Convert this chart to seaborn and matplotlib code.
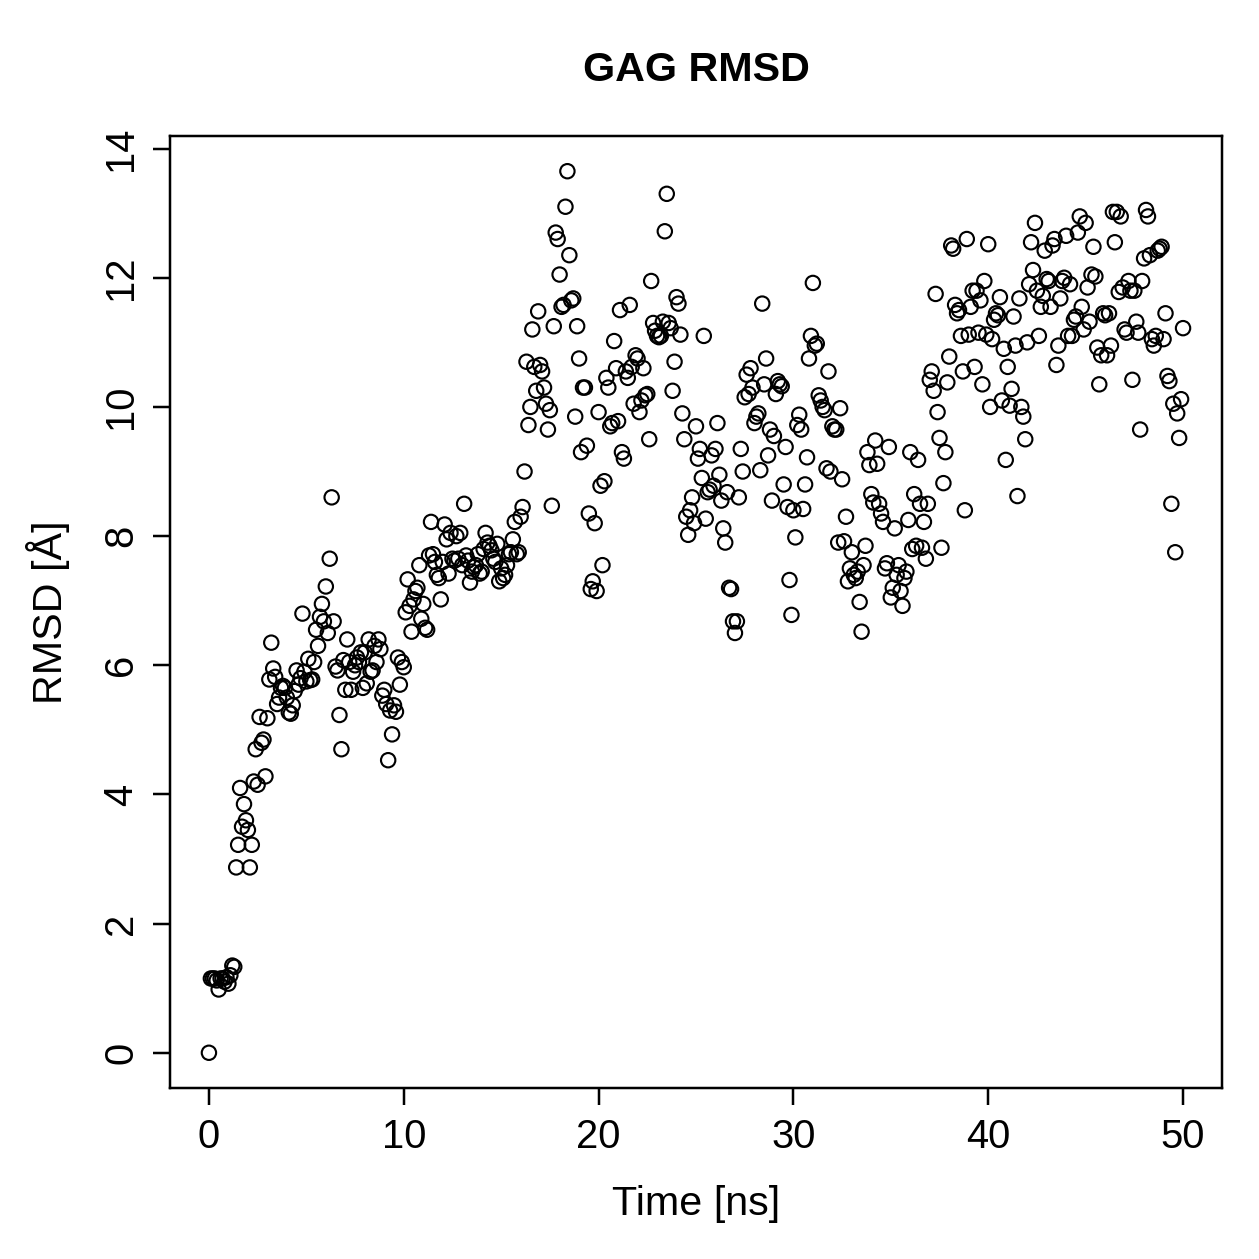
import seaborn as sns
import matplotlib.pyplot as plt
import pandas as pd

# ---------------------------------------
# Data: RMSD of GAG over the trajectory
# ---------------------------------------
time_ns = [
    0.0, 0.1, 0.2, 0.3, 0.4, 0.5, 0.6, 0.7, 0.8, 0.9,
    1.0, 1.1, 1.2, 1.3, 1.4, 1.5, 1.6, 1.7, 1.8, 1.9,
    2.0, 2.1, 2.2, 2.3, 2.4, 2.5, 2.6, 2.7, 2.8, 2.9,
    3.0, 3.1, 3.2, 3.3, 3.4, 3.5, 3.6, 3.7, 3.8, 3.9,
    4.0, 4.1, 4.2, 4.3, 4.4, 4.5, 4.6, 4.7, 4.8, 4.9,
    5.0, 5.1, 5.2, 5.3, 5.4, 5.5, 5.6, 5.7, 5.8, 5.9,
    6.0, 6.1, 6.2, 6.3, 6.4, 6.5, 6.6, 6.7, 6.8, 6.9,
    7.0, 7.1, 7.2, 7.3, 7.4, 7.5, 7.6, 7.7, 7.8, 7.9,
    8.0, 8.1, 8.2, 8.3, 8.4, 8.5, 8.6, 8.7, 8.8, 8.9,
    9.0, 9.1, 9.2, 9.3, 9.4, 9.5, 9.6, 9.7, 9.8, 9.9,
    10.0, 10.1, 10.2, 10.3, 10.4, 10.5, 10.6, 10.7, 10.8, 10.9,
    11.0, 11.1, 11.2, 11.3, 11.4, 11.5, 11.6, 11.7, 11.8, 11.9,
    12.0, 12.1, 12.2, 12.3, 12.4, 12.5, 12.6, 12.7, 12.8, 12.9,
    13.0, 13.1, 13.2, 13.3, 13.4, 13.5, 13.6, 13.7, 13.8, 13.9,
    14.0, 14.1, 14.2, 14.3, 14.4, 14.5, 14.6, 14.7, 14.8, 14.9,
    15.0, 15.1, 15.2, 15.3, 15.4, 15.5, 15.6, 15.7, 15.8, 15.9,
    16.0, 16.1, 16.2, 16.3, 16.4, 16.5, 16.6, 16.7, 16.8, 16.9,
    17.0, 17.1, 17.2, 17.3, 17.4, 17.5, 17.6, 17.7, 17.8, 17.9,
    18.0, 18.1, 18.2, 18.3, 18.4, 18.5, 18.6, 18.7, 18.8, 18.9,
    19.0, 19.1, 19.2, 19.3, 19.4, 19.5, 19.6, 19.7, 19.8, 19.9,
    20.0, 20.1, 20.2, 20.3, 20.4, 20.5, 20.6, 20.7, 20.8, 20.9,
    21.0, 21.1, 21.2, 21.3, 21.4, 21.5, 21.6, 21.7, 21.8, 21.9,
    22.0, 22.1, 22.2, 22.3, 22.4, 22.5, 22.6, 22.7, 22.8, 22.9,
    23.0, 23.1, 23.2, 23.3, 23.4, 23.5, 23.6, 23.7, 23.8, 23.9,
    24.0, 24.1, 24.2, 24.3, 24.4, 24.5, 24.6, 24.7, 24.8, 24.9,
    25.0, 25.1, 25.2, 25.3, 25.4, 25.5, 25.6, 25.7, 25.8, 25.9,
    26.0, 26.1, 26.2, 26.3, 26.4, 26.5, 26.6, 26.7, 26.8, 26.9,
    27.0, 27.1, 27.2, 27.3, 27.4, 27.5, 27.6, 27.7, 27.8, 27.9,
    28.0, 28.1, 28.2, 28.3, 28.4, 28.5, 28.6, 28.7, 28.8, 28.9,
    29.0, 29.1, 29.2, 29.3, 29.4, 29.5, 29.6, 29.7, 29.8, 29.9,
    30.0, 30.1, 30.2, 30.3, 30.4, 30.5, 30.6, 30.7, 30.8, 30.9,
    31.0, 31.1, 31.2, 31.3, 31.4, 31.5, 31.6, 31.7, 31.8, 31.9,
    32.0, 32.1, 32.2, 32.3, 32.4, 32.5, 32.6, 32.7, 32.8, 32.9,
    33.0, 33.1, 33.2, 33.3, 33.4, 33.5, 33.6, 33.7, 33.8, 33.9,
    34.0, 34.1, 34.2, 34.3, 34.4, 34.5, 34.6, 34.7, 34.8, 34.9,
    35.0, 35.1, 35.2, 35.3, 35.4, 35.5, 35.6, 35.7, 35.8, 35.9,
    36.0, 36.1, 36.2, 36.3, 36.4, 36.5, 36.6, 36.7, 36.8, 36.9,
    37.0, 37.1, 37.2, 37.3, 37.4, 37.5, 37.6, 37.7, 37.8, 37.9,
    38.0, 38.1, 38.2, 38.3, 38.4, 38.5, 38.6, 38.7, 38.8, 38.9,
    39.0, 39.1, 39.2, 39.3, 39.4, 39.5, 39.6, 39.7, 39.8, 39.9,
    40.0, 40.1, 40.2, 40.3, 40.4, 40.5, 40.6, 40.7, 40.8, 40.9,
    41.0, 41.1, 41.2, 41.3, 41.4, 41.5, 41.6, 41.7, 41.8, 41.9,
    42.0, 42.1, 42.2, 42.3, 42.4, 42.5, 42.6, 42.7, 42.8, 42.9,
    43.0, 43.1, 43.2, 43.3, 43.4, 43.5, 43.6, 43.7, 43.8, 43.9,
    44.0, 44.1, 44.2, 44.3, 44.4, 44.5, 44.6, 44.7, 44.8, 44.9,
    45.0, 45.1, 45.2, 45.3, 45.4, 45.5, 45.6, 45.7, 45.8, 45.9,
    46.0, 46.1, 46.2, 46.3, 46.4, 46.5, 46.6, 46.7, 46.8, 46.9,
    47.0, 47.1, 47.2, 47.3, 47.4, 47.5, 47.6, 47.7, 47.8, 47.9,
    48.0, 48.1, 48.2, 48.3, 48.4, 48.5, 48.6, 48.7, 48.8, 48.9,
    49.0, 49.1, 49.2, 49.3, 49.4, 49.5, 49.6, 49.7, 49.8, 49.9,
    50.0,
]

rmsd = [
    0.0, 1.15, 1.15, 1.15, 1.12, 0.98, 1.15, 1.15, 1.1, 1.17,
    1.07, 1.2, 1.35, 1.33, 2.87, 3.22, 4.1, 3.5, 3.85, 3.6,
    3.45, 2.87, 3.22, 4.2, 4.7, 4.15, 5.2, 4.8, 4.85, 4.28,
    5.18, 5.78, 6.35, 5.95, 5.82, 5.4, 5.5, 5.65, 5.68, 5.65,
    5.5, 5.27, 5.25, 5.38, 5.6, 5.92, 5.7, 5.8, 6.8, 5.9,
    5.75, 6.1, 5.77, 5.78, 6.05, 6.55, 6.3, 6.75, 6.95, 6.68,
    7.22, 6.5, 7.65, 8.6, 6.68, 5.98, 5.92, 5.23, 4.7, 6.08,
    5.62, 6.4, 6.05, 5.62, 5.9, 6.0, 6.12, 6.05, 6.2, 5.65,
    6.2, 5.72, 6.4, 5.9, 5.92, 6.3, 6.05, 6.4, 6.25, 5.53,
    5.62, 5.4, 4.53, 5.3, 4.93, 5.38, 5.28, 6.12, 5.7, 6.05,
    5.97, 6.82, 7.33, 6.92, 6.52, 7.02, 7.15, 7.2, 7.55, 6.72,
    6.95, 6.58, 6.55, 7.7, 8.22, 7.72, 7.6, 7.4, 7.35, 7.02,
    7.6, 8.18, 7.95, 7.42, 8.05, 7.65, 7.62, 8.0, 7.65, 8.05,
    7.55, 8.5, 7.7, 7.62, 7.28, 7.45, 7.52, 7.55, 7.72, 7.42,
    7.45, 7.8, 8.05, 7.9, 7.85, 7.78, 7.65, 7.6, 7.88, 7.3,
    7.5, 7.35, 7.4, 7.55, 7.72, 7.75, 7.95, 8.22, 7.72, 7.75,
    8.3, 8.45, 9.0, 10.7, 9.72, 10.0, 11.2, 10.62, 10.25, 11.48,
    10.65, 10.55, 10.3, 10.05, 9.65, 9.95, 8.47, 11.25, 12.7, 12.6,
    12.05, 11.55, 11.58, 13.1, 13.65, 12.35, 11.65, 11.68, 9.85, 11.25,
    10.75, 9.3, 10.3, 10.3, 9.4, 8.35, 7.18, 7.3, 8.2, 7.15,
    9.92, 8.78, 7.55, 8.85, 10.45, 10.3, 9.7, 9.75, 11.02, 10.6,
    9.78, 11.5, 9.3, 9.2, 10.55, 10.45, 11.58, 10.62, 10.05, 10.8,
    10.75, 9.92, 10.1, 10.6, 10.18, 10.2, 9.5, 11.95, 11.3, 11.18,
    11.1, 11.08, 11.1, 11.32, 12.72, 13.3, 11.3, 11.22, 10.25, 10.7,
    11.7, 11.6, 11.12, 9.9, 9.5, 8.3, 8.02, 8.4, 8.6, 8.2,
    9.7, 9.2, 9.35, 8.9, 11.1, 8.27, 8.68, 8.72, 9.25, 8.78,
    9.35, 9.75, 8.95, 8.55, 8.12, 7.9, 8.68, 7.2, 7.18, 6.68,
    6.5, 6.68, 8.6, 9.35, 9.0, 10.15, 10.5, 10.2, 10.6, 10.3,
    9.75, 9.85, 9.9, 9.02, 11.6, 10.35, 10.75, 9.25, 9.65, 8.55,
    9.55, 10.2, 10.4, 10.35, 10.32, 8.8, 9.38, 8.45, 7.32, 6.78,
    8.4, 7.98, 9.72, 9.88, 9.65, 8.42, 8.8, 9.22, 10.75, 11.1,
    11.92, 10.95, 10.98, 10.18, 10.1, 10.0, 9.95, 9.05, 10.55, 9.0,
    9.7, 9.65, 9.65, 7.9, 9.98, 8.88, 7.92, 8.3, 7.3, 7.5,
    7.75, 7.4, 7.35, 7.45, 6.98, 6.52, 7.55, 7.85, 9.3, 9.1,
    8.65, 8.52, 9.48, 9.12, 8.5, 8.35, 8.22, 7.5, 7.58, 9.38,
    7.05, 7.2, 8.12, 7.4, 7.55, 7.15, 6.92, 7.35, 7.45, 8.25,
    9.3, 7.8, 8.65, 7.85, 9.18, 8.5, 7.82, 8.22, 7.65, 8.5,
    10.42, 10.55, 10.25, 11.75, 9.92, 9.52, 7.82, 8.82, 9.3, 10.38,
    10.78, 12.5, 12.45, 11.58, 11.45, 11.5, 11.1, 10.55, 8.4, 12.6,
    11.12, 11.55, 11.8, 10.62, 11.8, 11.15, 11.65, 10.35, 11.95, 11.12,
    12.52, 10.0, 11.05, 11.35, 11.45, 11.42, 11.7, 10.1, 10.9, 9.18,
    10.62, 10.02, 10.28, 11.4, 10.95, 8.62, 11.68, 10.0, 9.85, 9.5,
    11.0, 11.9, 12.55, 12.12, 12.85, 11.8, 11.1, 11.55, 11.72, 12.42,
    11.98, 11.95, 11.55, 12.5, 12.6, 10.65, 10.95, 11.68, 11.95, 12.0,
    12.65, 11.1, 11.9, 11.1, 11.35, 11.4, 12.7, 12.95, 11.55, 11.2,
    12.85, 11.85, 11.32, 12.05, 12.48, 12.02, 10.92, 10.35, 10.8, 11.45,
    11.42, 10.8, 11.45, 10.95, 13.02, 12.55, 13.02, 11.78, 12.95, 11.85,
    11.2, 11.15, 11.95, 11.8, 10.42, 11.8, 11.32, 11.15, 9.65, 11.95,
    12.3, 13.05, 12.95, 12.35, 11.05, 10.95, 11.1, 12.42, 12.45, 12.48,
    11.05, 11.45, 10.48, 10.4, 8.5, 10.05, 7.75, 9.9, 9.52, 10.12,
    11.22,
]

x_ticks = [0, 10, 20, 30, 40, 50]
y_ticks = [0, 2, 4, 6, 8, 10, 12, 14]

df = pd.DataFrame({"Time": time_ns, "RMSD": rmsd})

# ---------------------------------------
# Theme: plain R-like base graphics look
# ---------------------------------------
sns.set_theme(style="ticks")
plt.rcParams["font.family"] = ["Liberation Sans", "DejaVu Sans"]
plt.rcParams.update({
    "axes.edgecolor": "black",
    "axes.labelcolor": "black",
    "text.color": "black",
    "axes.linewidth": 1.0,
    "xtick.color": "black",
    "ytick.color": "black",
    "xtick.major.size": 6.8,
    "ytick.major.size": 6.8,
    "xtick.major.width": 1.0,
    "ytick.major.width": 1.0,
})

fig = plt.figure(figsize=(7, 7), dpi=179.86)
ax = fig.add_axes([0.135, 0.1358, 0.8356, 0.7562])

sns.scatterplot(
    data=df, x="Time", y="RMSD", ax=ax,
    marker="o", s=33, facecolor="none", edgecolor="black", linewidth=0.85,
)

xmin, xmax = min(time_ns), max(time_ns)
ymin, ymax = min(rmsd), max(rmsd)
ax.set_xlim(xmin - 0.04 * (xmax - xmin), xmax + 0.04 * (xmax - xmin))
ax.set_ylim(ymin - 0.04 * (ymax - ymin), ymax + 0.04 * (ymax - ymin))

ax.set_xticks(x_ticks)
ax.set_yticks(y_ticks)
ax.set_yticklabels([str(v) for v in y_ticks], rotation=90, va="center")
ax.tick_params(axis="both", labelsize=16, pad=5, colors="black")
ax.tick_params(axis="y", pad=5)

ax.set_xlabel("Time [ns]", fontsize=16.5, labelpad=12)
ax.set_ylabel("RMSD [Å]", fontsize=16.5, labelpad=13)
ax.set_title("GAG RMSD", fontsize=16.5, fontweight="bold", pad=22)

for side in ["top", "right", "bottom", "left"]:
    ax.spines[side].set_visible(True)

fig.savefig("out.png", dpi=179.86)
